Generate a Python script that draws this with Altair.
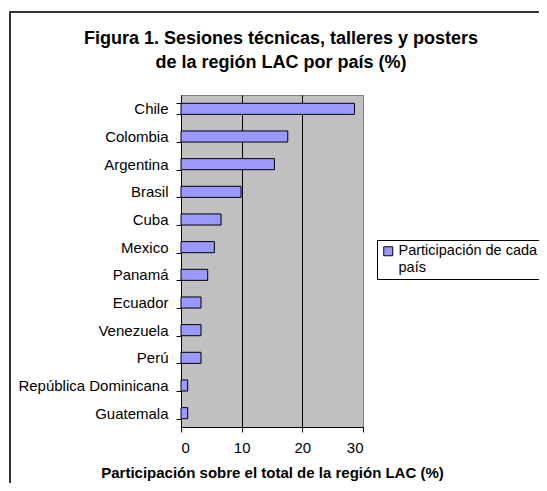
import altair as alt
import pandas as pd

countries = ["Chile", "Colombia", "Argentina", "Brasil", "Cuba", "Mexico", "Panamá",
             "Ecuador", "Venezuela", "Perú", "República Dominicana", "Guatemala"]
values = [28.6, 17.6, 15.4, 9.9, 6.6, 5.5, 4.4, 3.3, 3.3, 3.3, 1.1, 1.1]
series_name = "Participación de cada país"
title_lines = ["Figura 1. Sesiones técnicas, talleres y posters", "de la región LAC por país (%)"]

df = pd.DataFrame({"pais": countries, "valor": values, "serie": [series_name] * len(countries)})

FONT = "Liberation Sans"
one = pd.DataFrame({"a": [0]})

frame = alt.Chart(one).mark_rect(
    fill=None, stroke="#333333", strokeWidth=2, clip=False
).encode(
    x=alt.value(-171), x2=alt.value(400),
    y=alt.value(-83), y2=alt.value(420),
)

title1 = alt.Chart(one).mark_text(
    font=FONT, fontSize=18, fontWeight="bold", color="black", align="center", baseline="alphabetic"
).encode(x=alt.value(100), y=alt.value(-51), text=alt.value(title_lines[0]))

title2 = alt.Chart(one).mark_text(
    font=FONT, fontSize=18, fontWeight="bold", color="black", align="center", baseline="alphabetic"
).encode(x=alt.value(100), y=alt.value(-27), text=alt.value(title_lines[1]))

bars = alt.Chart(df).mark_bar(
    color="#9999FF", stroke="black", strokeWidth=1
).encode(
    y=alt.Y("pais:N", sort=countries, title=None,
            scale=alt.Scale(paddingInner=0.6, paddingOuter=0.3),
            axis=alt.Axis(tickBand="extent", tickSize=5, tickColor="black",
                          domainColor="black", labelFontSize=15, labelColor="black",
                          labelPadding=8, labelFont=FONT)),
    x=alt.X("valor:Q", title="Participación sobre el total de la región LAC (%)",
            scale=alt.Scale(domain=[0, 30], nice=False),
            axis=alt.Axis(values=[0, 10, 20, 30], tickSize=5, tickColor="black",
                          domainColor="black", labelFontSize=15, labelColor="black",
                          labelFont=FONT, labelPadding=8,
                          gridColor=alt.condition("datum.value == 30", alt.value("#808080"), alt.value("black")),
                          grid=True, titleFontSize=15, titleFont=FONT, titleFontWeight="bold",
                          titleColor="black", titlePadding=10)),
    fill=alt.Fill("serie:N", scale=alt.Scale(range=["#9999FF"]),
                  legend=alt.Legend(title=None, orient="none", legendX=196, legendY=145,
                                    labelExpr="['Participación de cada', 'país']",
                                    labelFontSize=14.5, labelFont=FONT, labelColor="black",
                                    symbolType="square", symbolSize=81,
                                    symbolStrokeColor="black", symbolStrokeWidth=1,
                                    symbolFillColor="#9999FF",
                                    strokeColor="black", fillColor="white", padding=4,
                                    labelOffset=3, labelLimit=300)),
)

chart = alt.layer(frame, title1, title2, bars).properties(
    width=182, height=332,
    autosize=alt.AutoSizeParams(type="none"),
    padding={"left": 173, "top": 87, "right": 176, "bottom": 56},
).configure_view(
    fill="#C0C0C0", stroke="#808080", strokeWidth=1
)

chart.save("out.html", embed_options={"renderer": "svg", "actions": False})
